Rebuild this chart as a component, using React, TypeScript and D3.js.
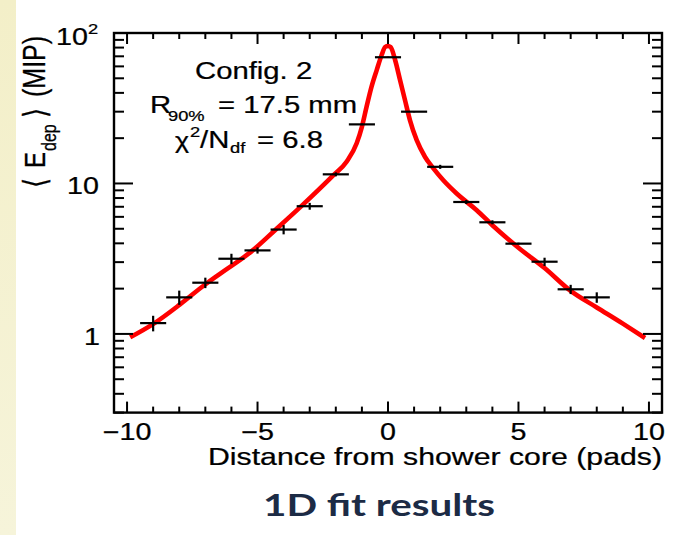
import React from 'react';
import * as d3 from 'd3';

// Mean deposited energy per pad bin, 1D lateral shower profile
const binCenters = [-9, -8, -7, -6, -5, -4, -3, -2, -1, 0, 1, 2, 3, 4, 5, 6, 7, 8];
const meanEdep = [1.18, 1.75, 2.19, 3.16, 3.59, 4.94, 7.06, 11.5, 24.7, 69, 30, 12.9, 7.53, 5.52, 3.98, 3.02, 1.98, 1.75];
const edepError = [0.14, 0.19, 0.175, 0.25, 0.17, 0.35, 0.37, 0.35, 0.3, 0.6, 0.3, 0.4, 0.23, 0.17, 0.06, 0.19, 0.14, 0.14];
const binWidth = 1;

// Fitted profile, sampled along the drawn curve
const fitX = [-9.88, -8.99, -7.97, -7.01, -6.44, -5.22, -4.33, -3.31, -2.1, -1.58, -1.2, -1.0, -0.82, -0.63, -0.43, -0.24, -0.11, 0, 0.1, 0.27, 0.46, 0.65, 0.84, 1.1, 1.42, 1.74, 2.12, 2.63, 3.4, 4, 5, 6, 7, 8, 9, 9.85];
const fitY = [0.95, 1.166, 1.57, 2.13, 2.51, 3.55, 4.89, 7.09, 11.3, 14.0, 18.5, 23.8, 32.4, 44, 56.9, 71.7, 80.7, 82, 80.7, 66.4, 48.8, 35.9, 26.4, 19.4, 15.0, 12.6, 10.5, 8.58, 6.64, 5.28, 3.74, 2.74, 1.93, 1.5, 1.17, 0.94];

const xMajorTicks = [-10, -5, 0, 5, 10];
const xTickLabels = ['\u221210', '\u22125', '0', '5', '10'];
const yMajorTicks = [1, 10, 100];

const W = 683;
const H = 535;
const F = { left: 114, right: 662, top: 33, bottom: 412.6 };
const SX = 1.22; // horizontal stretch of the plot's lettering
const FONT = "'Liberation Sans', Arial, Helvetica, sans-serif";

type TProps = {
  x: number;
  y: number;
  size: number;
  anchor?: 'start' | 'middle' | 'end';
  children: React.ReactNode;
  length?: number;
};

function T({ x, y, size, anchor = 'start', children, length }: TProps) {
  return (
    <text
      transform={`translate(${x},${y}) scale(${SX},1)`}
      fontSize={size}
      fontFamily={FONT}
      textAnchor={anchor}
      fill="#000"
      stroke="#000"
      strokeWidth={0.25}
      textLength={length ? length / SX : undefined}
      lengthAdjust={length ? 'spacingAndGlyphs' : undefined}
    >
      {children}
    </text>
  );
}

export default function App() {
  const x = d3.scaleLinear().domain([-10.5, 10.5]).range([F.left, F.right]);
  const y = d3.scaleLog().domain([0.3, 100]).range([F.bottom, F.top]);

  const xMinor = d3.range(-10, 11).filter((v) => !xMajorTicks.includes(v));
  const yMinor: number[] = [];
  for (const d of [-1, 0, 1]) {
    for (let k = 2; k <= 9; k++) {
      const v = k * Math.pow(10, d);
      if (v >= 0.3 && v < 100) yMinor.push(v);
    }
  }

  const fitPts: [number, number][] = fitX.map((v, i) => [v, fitY[i]]);
  const fitLine = d3
    .line<[number, number]>()
    .x((d) => x(d[0]))
    .y((d) => y(d[1]))
    .curve(d3.curveMonotoneX);

  const yMajLen = 19;
  const yMinLen = 10;
  const xMajLen = 11;
  const xMinLen = 6;

  return (
    <svg
      width={W}
      height={H}
      viewBox={`0 0 ${W} ${H}`}
      style={{ position: 'absolute', left: 0, top: 0, display: 'block', background: '#fff' }}
    >
      <defs>
        <linearGradient id="strip" x1="0" y1="0" x2="0" y2="1">
          <stop offset="0" stopColor="#f3efc8" />
          <stop offset="1" stopColor="#f6f4da" />
        </linearGradient>
      </defs>
      <rect x={0} y={0} width={W} height={H} fill="#fff" />
      <rect x={0} y={0} width={16} height={H} fill="url(#strip)" />

      {/* fit curve */}
      <path d={fitLine(fitPts) ?? ''} fill="none" stroke="#ff0000" strokeWidth={4.6} strokeLinejoin="round" strokeLinecap="butt" />

      {/* data points with bin-width and error bars */}
      <g stroke="#000" strokeWidth={2.2}>
        {binCenters.map((c, i) => (
          <g key={c}>
            <line x1={x(c - binWidth / 2)} x2={x(c + binWidth / 2)} y1={y(meanEdep[i])} y2={y(meanEdep[i])} />
            <line x1={x(c)} x2={x(c)} y1={y(meanEdep[i] - edepError[i])} y2={y(meanEdep[i] + edepError[i])} />
          </g>
        ))}
      </g>

      {/* frame and ticks */}
      <g stroke="#000" strokeWidth={2}>
        {yMajorTicks.map((v) => (
          <g key={`ym${v}`}>
            <line x1={F.left} x2={F.left + yMajLen} y1={y(v)} y2={y(v)} />
            <line x1={F.right} x2={F.right - yMajLen} y1={y(v)} y2={y(v)} />
          </g>
        ))}
        {yMinor.map((v) => (
          <g key={`yn${v}`}>
            <line x1={F.left} x2={F.left + yMinLen} y1={y(v)} y2={y(v)} />
            <line x1={F.right} x2={F.right - yMinLen} y1={y(v)} y2={y(v)} />
          </g>
        ))}
        {xMajorTicks.map((v) => (
          <g key={`xm${v}`}>
            <line x1={x(v)} x2={x(v)} y1={F.bottom} y2={F.bottom - xMajLen} />
            <line x1={x(v)} x2={x(v)} y1={F.top} y2={F.top + xMajLen} />
          </g>
        ))}
        {xMinor.map((v) => (
          <g key={`xn${v}`}>
            <line x1={x(v)} x2={x(v)} y1={F.bottom} y2={F.bottom - xMinLen} />
            <line x1={x(v)} x2={x(v)} y1={F.top} y2={F.top + xMinLen} />
          </g>
        ))}
        <rect x={F.left} y={F.top} width={F.right - F.left} height={F.bottom - F.top} fill="none" strokeWidth={2.4} />
      </g>

      {/* x tick labels */}
      {xMajorTicks.map((v, i) => (
        <T key={`xl${v}`} x={x(v)} y={440} size={23.5} anchor="middle">
          {xTickLabels[i]}
        </T>
      ))}

      {/* y tick labels */}
      <T x={100} y={y(1) + 11} size={23.5} anchor="end">1</T>
      <T x={99} y={y(10) + 11} size={23.5} anchor="end">10</T>
      <T x={88} y={y(100) + 12} size={23.5} anchor="end">10</T>
      <T x={88} y={y(100) + 1} size={15}>2</T>

      {/* axis titles */}
      <T x={208} y={465} size={24} length={454}>Distance from shower core (pads)</T>
      <g transform={`translate(45,187) scale(${SX},1) rotate(-90)`} fontFamily={FONT} fill="#000" stroke="#000" strokeWidth={0.25}>
        <text x={-1} y={1} fontSize={26} fontFamily="'DejaVu Sans', sans-serif">{'\u27E8'}</text>
        <text x={19} y={0} fontSize={24}>E</text>
        <text x={36} y={9} fontSize={16}>dep</text>
        <text x={69} y={1} fontSize={26} fontFamily="'DejaVu Sans', sans-serif">{'\u27E9'}</text>
        <text x={90} y={0} fontSize={25}>(MIP)</text>
      </g>

      {/* fit annotations */}
      <T x={195} y={79} size={24}>Config. 2</T>
      <T x={150} y={113} size={24}>R</T>
      <T x={168} y={121} size={15}>90%</T>
      <T x={218} y={113} size={24}>= 17.5 mm</T>
      <T x={175} y={148} size={22}>{'\u03C7'}</T>
      <T x={190} y={137} size={15}>2</T>
      <T x={200} y={148} size={24}>/N</T>
      <T x={230} y={153} size={15}>df</T>
      <T x={257} y={148} size={24}>= 6.8</T>

      {/* caption */}
      <text
        x={263}
        y={516}
        fontSize={31}
        fontWeight="bold"
        fontFamily="Lato, 'Open Sans', sans-serif"
        fill="#1c2b45"
        textLength={232}
        lengthAdjust="spacingAndGlyphs"
      >
        1D fit results
      </text>
    </svg>
  );
}
